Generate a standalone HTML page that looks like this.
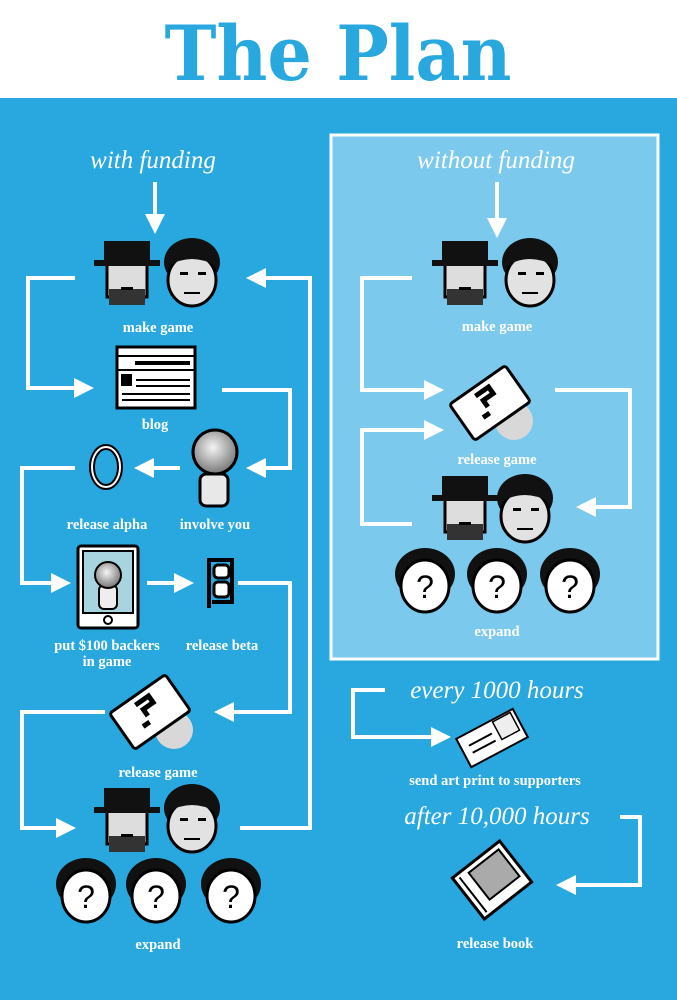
<!DOCTYPE html>
<html><head><meta charset="utf-8"><style>
html,body{margin:0;padding:0;background:#29a8e0;}
svg{display:block}
.l{font-family:"Liberation Serif",serif;font-weight:bold;font-size:14.5px;fill:#fff;text-anchor:middle}
.h{font-family:"Liberation Serif",serif;font-style:italic;font-size:25px;fill:#fff;text-anchor:middle}
</style></head><body>
<svg width="677" height="1000" viewBox="0 0 677 1000" xmlns="http://www.w3.org/2000/svg">
<defs>
<radialGradient id="ball" cx="0.45" cy="0.4" r="0.6"><stop offset="0" stop-color="#f4f4f4"/><stop offset="1" stop-color="#777"/></radialGradient>
<g id="hat">
<rect x="-20" y="-12" width="40" height="34" fill="#ddd" stroke="#000" stroke-width="3"/>
<rect x="-18" y="14" width="36" height="16" fill="#333"/>
<rect x="-6" y="12" width="12" height="3" fill="#000"/>
<rect x="-23" y="-34" width="46" height="22" fill="#111"/>
<rect x="-33" y="-15" width="66" height="6" fill="#111"/>
</g>
<g id="guy">
<ellipse cx="0" cy="-10" rx="28" ry="24" fill="#111"/>
<ellipse cx="0" cy="8" rx="24" ry="26" fill="#e2e2e2" stroke="#000" stroke-width="3"/>
<path d="M-24 -6 Q0 -20 24 -6 L24 -16 Q0 -30 -24 -16Z" fill="#111"/>
<rect x="-12" y="0" width="8" height="3" fill="#000"/><rect x="6" y="0" width="8" height="3" fill="#000"/>
<rect x="-8" y="20" width="16" height="2" fill="#000"/>
</g>
<g id="q">
<ellipse cx="0" cy="-6" rx="30" ry="26" fill="#111"/>
<ellipse cx="0" cy="6" rx="24" ry="26" fill="#fff" stroke="#000" stroke-width="3"/>
<text x="0" y="18" font-family="Liberation Sans,sans-serif" font-size="32" text-anchor="middle" fill="#000">?</text>
</g>
<g id="card">
<circle cx="24" cy="18" r="19" fill="#d8d8d8"/>
<g transform="rotate(-35)">
<rect x="-34" y="-22" width="68" height="44" rx="3" fill="#fff" stroke="#000" stroke-width="3"/>
<path d="M-14 8 L-6 8 M-4 2 L-4 -6 L8 -6 L8 -14 L-8 -14" stroke="#000" stroke-width="5" fill="none"/>
</g>
</g>
<marker id="a" viewBox="0 0 10 10" refX="2" refY="5" markerWidth="5" markerHeight="5" orient="auto"><path d="M0 0 L10 5 L0 10Z" fill="#fff"/></marker>
</defs>
<rect x="0" y="0" width="677" height="98" fill="#fff"/>
<text x="338" y="80" font-family="DejaVu Serif,serif" font-weight="bold" font-size="76" fill="#29a8e0" text-anchor="middle" textLength="347" lengthAdjust="spacingAndGlyphs">The Plan</text>
<rect x="331" y="135" width="327" height="524" fill="#7cc9ee" stroke="#fff" stroke-width="3"/>

<g stroke="#fff" stroke-width="4" fill="none" marker-end="url(#a)">
<path d="M155 182 V218"/>
<path d="M75 278 H28 V388 H78"/>
<path d="M240 828 H310 V278 H262"/>
<path d="M222 390 H290 V468 H262"/>
<path d="M180 468 H150"/>
<path d="M75 468 H22 V583 H55"/>
<path d="M147 583 H178"/>
<path d="M238 583 H290 V712 H230"/>
<path d="M105 712 H22 V828 H60"/>
<path d="M497 182 V222"/>
<path d="M412 278 H362 V390 H428"/>
<path d="M555 390 H630 V507 H592"/>
<path d="M412 524 H362 V430 H428"/>
<path d="M385 690 H353 V737 H435"/>
<path d="M620 817 H640 V885 H572"/>
</g>

<text class="h" x="153" y="168">with funding</text>
<text class="h" x="496" y="168">without funding</text>
<text class="h" x="497" y="698">every 1000 hours</text>
<text class="h" x="497" y="824">after 10,000 hours</text>

<use href="#hat" x="127" y="275"/><use href="#guy" x="192" y="272"/>
<use href="#hat" x="127" y="822"/><use href="#guy" x="192" y="818"/>
<use href="#q" x="86" y="890"/><use href="#q" x="156" y="890"/><use href="#q" x="231" y="890"/>
<use href="#hat" x="465" y="275"/><use href="#guy" x="530" y="272"/>
<use href="#hat" x="465" y="510"/><use href="#guy" x="525" y="508"/>
<use href="#q" x="425" y="580"/><use href="#q" x="497" y="580"/><use href="#q" x="570" y="580"/>
<use href="#card" x="150" y="712"/><use href="#card" x="490" y="403"/>

<rect x="117" y="347" width="78" height="61" fill="#fff" stroke="#000" stroke-width="3"/>
<g stroke="#000" stroke-width="2"><line x1="117" y1="356" x2="195" y2="356"/><line x1="117" y1="370" x2="195" y2="370"/>
<line x1="135" y1="363" x2="190" y2="363" stroke-width="4"/>
<line x1="136" y1="380" x2="190" y2="380"/><line x1="136" y1="386" x2="190" y2="386"/><line x1="122" y1="394" x2="190" y2="394"/><line x1="122" y1="400" x2="190" y2="400"/></g>
<rect x="121" y="374" width="11" height="12" fill="#000"/>
<rect x="200" y="474" width="28" height="32" rx="6" fill="#e8e8e8" stroke="#000" stroke-width="3"/>
<circle cx="215" cy="452" r="22" fill="url(#ball)" stroke="#000" stroke-width="3"/>
<ellipse cx="106" cy="467" rx="14" ry="20" fill="none" stroke="#000" stroke-width="6"/>
<ellipse cx="106" cy="467" rx="14" ry="20" fill="none" stroke="#fff" stroke-width="2"/>
<rect x="78" y="546" width="60" height="82" rx="3" fill="#fff" stroke="#000" stroke-width="3"/>
<rect x="83" y="551" width="50" height="62" fill="#a8d4e0" stroke="#000" stroke-width="2"/>
<rect x="99" y="585" width="18" height="24" rx="5" fill="#eee" stroke="#000" stroke-width="2"/>
<circle cx="108" cy="575" r="13" fill="url(#ball)" stroke="#000" stroke-width="2"/>
<circle cx="108" cy="620" r="4" fill="none" stroke="#000" stroke-width="2"/>
<path d="M209 608 V560 H232 V602 H212" fill="none" stroke="#000" stroke-width="4"/>
<rect x="214" y="565" width="15" height="13" rx="4" fill="#fff" stroke="#000" stroke-width="3"/>
<rect x="214" y="582" width="15" height="15" rx="4" fill="#fff" stroke="#000" stroke-width="3"/>
<g transform="translate(492,738) rotate(-28)"><rect x="-32" y="-16" width="64" height="32" fill="#fff" stroke="#000" stroke-width="2"/>
<rect x="8" y="-14" width="20" height="20" fill="#eee" stroke="#000" stroke-width="1.5"/>
<line x1="-24" y1="-4" x2="2" y2="-4" stroke="#000" stroke-width="2"/><line x1="-24" y1="4" x2="2" y2="4" stroke="#000" stroke-width="2"/></g>
<g transform="translate(492,880) rotate(-38)"><rect x="-30" y="-26" width="60" height="52" fill="#fff" stroke="#000" stroke-width="3"/>
<rect x="-14" y="-20" width="38" height="34" fill="#aaa" stroke="#000" stroke-width="2"/>
<line x1="-24" y1="-22" x2="-24" y2="22" stroke="#000" stroke-width="2"/></g>

<text class="l" x="158" y="332">make game</text>
<text class="l" x="155" y="429">blog</text>
<text class="l" x="107" y="529">release alpha</text>
<text class="l" x="215" y="529">involve you</text>
<text class="l" x="107" y="650">put $100 backers</text>
<text class="l" x="107" y="666">in game</text>
<text class="l" x="222" y="650">release beta</text>
<text class="l" x="158" y="777">release game</text>
<text class="l" x="158" y="949">expand</text>
<text class="l" x="497" y="331">make game</text>
<text class="l" x="497" y="464">release game</text>
<text class="l" x="497" y="636">expand</text>
<text class="l" x="495" y="785">send art print to supporters</text>
<text class="l" x="495" y="948">release book</text>
</svg>
</body></html>
